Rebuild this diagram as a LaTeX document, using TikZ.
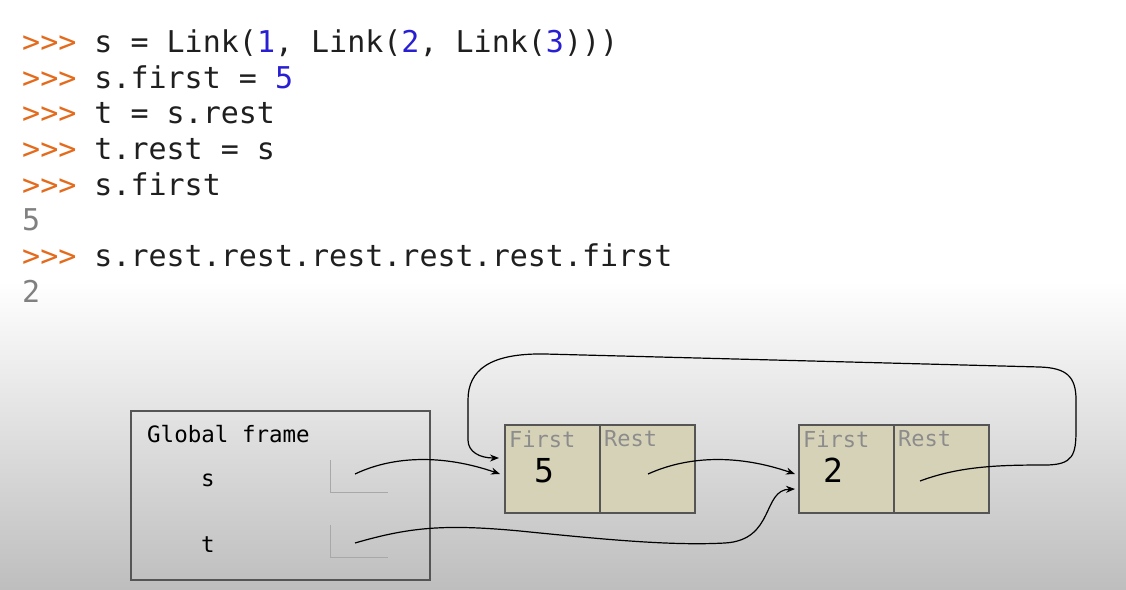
\documentclass[tikz,border=0pt]{standalone}
\usepackage{fontspec}
\usepackage{tikz}
\usetikzlibrary{arrows.meta}
\newfontfamily\codefont{DejaVu Sans Mono}
\definecolor{prompt}{RGB}{228,106,28}
\definecolor{num}{RGB}{40,30,210}
\definecolor{outgray}{RGB}{128,128,128}
\definecolor{labgray}{RGB}{140,140,140}
\definecolor{slotgray}{RGB}{168,168,168}
\definecolor{cellfill}{RGB}{214,210,184}
\definecolor{edgegray}{RGB}{85,85,85}
\definecolor{bggray}{RGB}{190,190,190}

\begin{document}
\begin{tikzpicture}[x=1pt, y=-1pt,
    code/.style={anchor=base west, inner sep=0pt, font=\codefont\fontsize{30}{36}\selectfont, text=black!88},
    frametext/.style={anchor=base west, inner sep=0pt, font=\codefont\fontsize{22.5}{27}\selectfont},
    celllabel/.style={anchor=base west, inner sep=0pt, font=\codefont\fontsize{22}{26}\selectfont, text=labgray},
    cellvalue/.style={anchor=base west, inner sep=0pt, font=\codefont\fontsize{33}{38}\selectfont},
    cell/.style={draw=edgegray, fill=cellfill, line width=1.5, minimum width=95, minimum height=88, inner sep=0pt},
    slot/.style={draw=slotgray, line width=1},
    ptr/.style={-{Stealth[length=9,width=7]}, line width=1.2}]
    \useasboundingbox (0,0) rectangle (1126,589);
    % background
    \fill[white] (0,0) rectangle (1126,282);
    \shade[top color=white, bottom color=bggray] (0,281) rectangle (1126,589);

    % nodes: code lines
    \node[code] (cmd1) at (22, 52) {{\color{prompt}>>>} s = Link({\color{num}1}, Link({\color{num}2}, Link({\color{num}3})))};
    \node[code] (cmd2) at (22, 88) {{\color{prompt}>>>} s.first = {\color{num}5}};
    \node[code] (cmd3) at (22, 123) {{\color{prompt}>>>} t = s.rest};
    \node[code] (cmd4) at (22, 159) {{\color{prompt}>>>} t.rest = s};
    \node[code] (cmd5) at (22, 195) {{\color{prompt}>>>} s.first};
    \node[code, text=outgray] (out5) at (22, 230) {5};
    \node[code] (cmd7) at (22, 266) {{\color{prompt}>>>} s.rest.rest.rest.rest.rest.first};
    \node[code, text=outgray] (out7) at (22, 302) {2};

    % nodes: global frame, s t
    \node[draw=edgegray, line width=1.3, minimum width=299, minimum height=169] (gf) at (280.5, 495.5) {};
    \node[frametext] (gftitle) at (147, 442) {Global frame};
    \node[frametext] (s) at (201, 486) {s};
    \node[frametext] (t) at (201, 552) {t};
    \draw[slot] (330, 460) -- (330, 492) -- (388, 492);
    \draw[slot] (330, 525) -- (330, 557) -- (388, 557);
    \coordinate (sptr) at (355, 474);
    \coordinate (tptr) at (355, 543);

    % nodes: link 1
    \node[cell] (f1) at (552.5, 469) {};
    \node[cell] (r1) at (647.5, 469) {};
    \node[celllabel] (f1lab) at (509, 447) {First};
    \node[celllabel] (r1lab) at (604, 446) {Rest};
    \node[cellvalue] (f1val) at (534, 482) {5};
    \coordinate (r1ptr) at (648, 474);
    % nodes: link 2
    \node[cell] (f2) at (846.5, 469) {};
    \node[cell] (r2) at (941.5, 469) {};
    \node[celllabel] (f2lab) at (803, 447) {First};
    \node[celllabel] (r2lab) at (898, 446) {Rest};
    \node[cellvalue] (f2val) at (823, 482) {2};
    \coordinate (r2ptr) at (920, 481);
    % arrow ends
    \coordinate (f1in) at (500, 474);
    \coordinate (f1loop) at (499, 458);
    \coordinate (f2in) at (795, 474);
    \coordinate (f2t) at (795, 489);

    % edges: s, t
    \draw[ptr] (sptr) .. controls (395, 455) and (445, 455) .. (f1in);
    \draw[ptr] (tptr) .. controls (410, 527) and (445, 524) .. (520, 531)
        .. controls (600, 539) and (670, 546) .. (725, 543)
        .. controls (775, 540) and (762, 490) .. (f2t);
    % edges: rest pointers
    \draw[ptr] (r1ptr) .. controls (690, 455) and (740, 455) .. (f2in);
    \draw[ptr] (r2ptr) .. controls (960, 466) and (1000, 465) .. (1045, 465)
        .. controls (1073, 465) and (1076, 455) .. (1076, 430) -- (1076, 400)
        .. controls (1076, 376) and (1066, 368) .. (1040, 367) -- (545, 354)
        .. controls (490, 353) and (468, 370) .. (468, 400) -- (468, 440)
        .. controls (468, 452) and (480, 458) .. (f1loop);
\end{tikzpicture}
\end{document}
